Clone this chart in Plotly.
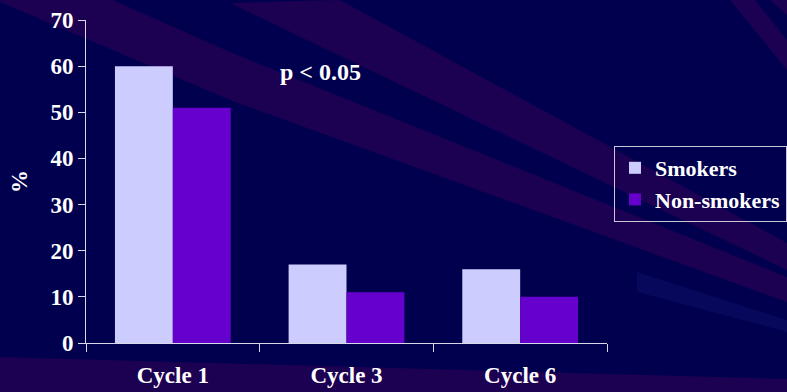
import plotly.graph_objects as go

# Data
cycles = ["Cycle 1", "Cycle 3", "Cycle 6"]
smokers = [60, 17, 16]
non_smokers = [51, 11, 10]
y_ticks = [0, 10, 20, 30, 40, 50, 60, 70]

W, H = 787, 392
L, R, T, B = 86, 607, 20, 343  # plot area edges in pixels

NAVY = "#00004f"
STREAK = "#1c0052"
FONT = "Liberation Serif"
FS = 23


def px(x, y):
    """Convert pixel position to paper coordinates."""
    return (x - L) / (R - L), (B - y) / (B - T)


def band(points, color, opacity=1.0):
    pts = [px(x, y) for x, y in points]
    path = "M " + " L ".join(f"{a:.4f},{b:.4f}" for a, b in pts) + " Z"
    return dict(type="path", xref="paper", yref="paper", path=path,
                fillcolor=color, line=dict(width=0), layer="below",
                opacity=opacity)


# Decorative diagonal streaks in the slide background
shapes = [
    band([(230, 3), (340, 0), (787, 243), (787, 270)], STREAK),
    band([(0, -50), (230, 52), (787, 277), (787, 302), (230, 100), (0, 2)], STREAK),
    band([(637, 272), (787, 320), (787, 332), (637, 292)], "#0c0c66", 0.6),
    band([(0, 357), (787, 379), (787, 392), (0, 392)], STREAK),
    band([(730, 0), (755, 0), (787, 40), (787, 70)], STREAK),
    band([(770, 0), (787, 0), (787, 15)], STREAK),
]

fig = go.Figure()
fig.add_trace(go.Bar(name="Smokers", x=cycles, y=smokers,
                     marker=dict(color="#ccccff", line=dict(width=0))))
fig.add_trace(go.Bar(name="Non-smokers", x=cycles, y=non_smokers,
                     marker=dict(color="#6600cc", line=dict(width=0))))

axis_col = "#d8d8e8"
bold = dict(family=FONT, size=FS, color="white", weight="bold")
fig.update_layout(
    width=W, height=H,
    margin=dict(l=L, r=W - R, t=T, b=H - B, pad=0, autoexpand=False),
    paper_bgcolor=NAVY, plot_bgcolor="rgba(0,0,0,0)",
    barmode="group", bargap=1 / 3, bargroupgap=0,
    font=bold,
    shapes=shapes,
    showlegend=True,
    legend=dict(x=px(614, 0)[0], y=px(0, 146)[1], xanchor="left", yanchor="top",
                bgcolor="rgba(0,0,0,0)", bordercolor="#c8c8d8", borderwidth=1,
                font=dict(family=FONT, size=22, color="white", weight="bold"),
                itemwidth=30, entrywidth=190, entrywidthmode="pixels",
                itemclick=False, tracegroupgap=0),
    xaxis=dict(showgrid=False, showline=True, linecolor=axis_col, linewidth=1,
               ticks="outside", tickson="boundaries", ticklen=8, tickcolor=axis_col,
               tickfont=bold, ticklabelstandoff=11, zeroline=False, automargin=False),
    yaxis=dict(range=[0, 70], tickvals=y_ticks, showgrid=False, showline=True,
               linecolor=axis_col, linewidth=1, ticks="outside", ticklen=7,
               tickcolor=axis_col, zeroline=False, automargin=False,
               tickfont=bold, title=dict(text="%", standoff=16, font=bold)),
    annotations=[dict(text="p < 0.05", xref="paper", yref="paper",
                      x=px(320, 0)[0], y=px(0, 72)[1], xanchor="center",
                      yanchor="middle", showarrow=False,
                      font=dict(family=FONT, size=24, color="white", weight="bold"))],
)

fig.write_html("out.html")
